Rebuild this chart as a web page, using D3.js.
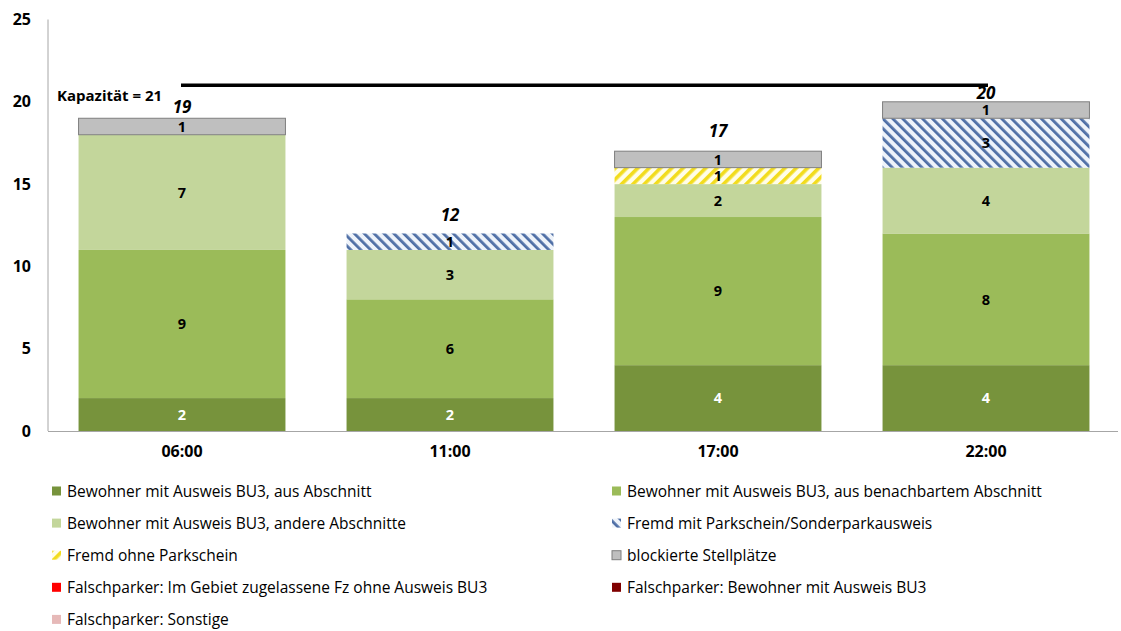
<!DOCTYPE html>
<html><head><meta charset="utf-8">
<script src="https://cdn.jsdelivr.net/npm/d3@7"></script>
<style>
html,body{margin:0;padding:0;background:#fff;}
svg{display:block;font-family:"Open Sans",sans-serif;}
</style></head>
<body><svg id="c" width="1121" height="631"></svg>
<script>
// ---- data ----
const categories = ["06:00","11:00","17:00","22:00"];
const seriesNames = [
  "Bewohner mit Ausweis BU3, aus Abschnitt",
  "Bewohner mit Ausweis BU3, aus benachbartem Abschnitt",
  "Bewohner mit Ausweis BU3, andere Abschnitte",
  "Fremd mit Parkschein/Sonderparkausweis",
  "Fremd ohne Parkschein",
  "blockierte Stellplätze",
  "Falschparker: Im Gebiet zugelassene Fz ohne Ausweis BU3",
  "Falschparker: Bewohner mit Ausweis BU3",
  "Falschparker: Sonstige"
];
const ausAbschnitt     = [2,2,4,4];
const benachbart       = [9,6,9,8];
const andere           = [7,3,2,4];
const fremdMitSchein   = [0,1,0,3];
const fremdOhneSchein  = [0,0,1,0];
const blockiert        = [1,0,1,1];
const falschZugelassen = [0,0,0,0];
const falschBewohner   = [0,0,0,0];
const falschSonstige   = [0,0,0,0];
const seriesValues = [ausAbschnitt,benachbart,andere,fremdMitSchein,fremdOhneSchein,blockiert,falschZugelassen,falschBewohner,falschSonstige];
const yTicks = [0,5,10,15,20,25];
const capacity = 21;
const capacityLabel = "Kapazität = 21";

// ---- styles ----
const fills = ["#77933C","#9BBB59","#C3D69B","url(#hatchBlue)","url(#hatchYellow)","#BFBFBF","#FF0000","#7F0000","#E6B9B8"];
const labelColors = ["#fff","#000","#000","#000","#000","#000","#000","#000","#000"];
const totalDy = [-5.5,-12,-14.5,-3]; // layout offsets of the total labels (px)

const svg = d3.select("#c");
const defs = svg.append("defs");
const pb = defs.append("pattern").attr("id","hatchBlue").attr("patternUnits","userSpaceOnUse")
  .attr("width",7).attr("height",7).attr("patternTransform","rotate(-45)");
pb.append("rect").attr("width",7).attr("height",7).attr("fill","#EEF3FA");
pb.append("rect").attr("width",2.8).attr("height",7).attr("fill","#4F6FA6");
const py = defs.append("pattern").attr("id","hatchYellow").attr("patternUnits","userSpaceOnUse")
  .attr("width",8).attr("height",8).attr("patternTransform","rotate(45)");
py.append("rect").attr("width",8).attr("height",8).attr("fill","#FFFDE8");
py.append("rect").attr("width",3.6).attr("height",8).attr("fill","#F2DC1E");

const x = d3.scaleBand().domain(categories).range([48,1120]).paddingInner(0.228).paddingOuter(0.114);
const y = d3.scaleLinear().domain([0,25]).range([431,19.5]);

// stack
const rows = categories.map((c,i)=>{const o={cat:c}; seriesNames.forEach((s,j)=>o[s]=seriesValues[j][i]); return o;});
const stacked = d3.stack().keys(seriesNames)(rows);

const g = svg.append("g");
stacked.forEach((layer,j)=>{
  layer.forEach((d,i)=>{
    const v = d[1]-d[0];
    if(v<=0) return;
    g.append("rect").attr("x",x(categories[i])).attr("width",x.bandwidth())
      .attr("y",y(d[1])).attr("height",y(d[0])-y(d[1]))
      .attr("fill",fills[j])
      .attr("stroke", j===5 ? "#7F7F7F" : "none").attr("stroke-width",1);
  });
});
// segment labels
stacked.forEach((layer,j)=>{
  layer.forEach((d,i)=>{
    const v = d[1]-d[0];
    if(v<=0) return;
    g.append("text").attr("x",x(categories[i])+x.bandwidth()/2).attr("y",y((d[0]+d[1])/2))
      .attr("dy","0.36em").attr("text-anchor","middle")
      .attr("font-size",14.5).attr("font-weight","bold").attr("fill",labelColors[j]).text(v);
  });
});
// totals
categories.forEach((c,i)=>{
  const tot = d3.sum(seriesValues,s=>s[i]);
  g.append("text").attr("x",x(c)+x.bandwidth()/2).attr("y",y(tot)+totalDy[i])
    .attr("text-anchor","middle").attr("font-size",17).attr("font-weight","bold").attr("font-style","italic")
    .text(tot);
});

// axes
svg.append("line").attr("x1",48).attr("x2",48).attr("y1",y(25)).attr("y2",y(0)).attr("stroke","#A6A6A6");
svg.append("line").attr("x1",48).attr("x2",1118).attr("y1",y(0)+0.5).attr("y2",y(0)+0.5).attr("stroke","#A6A6A6");
const ya = svg.append("g").attr("transform","translate(31,0)")
  .call(d3.axisLeft(y).tickValues(yTicks).tickSize(0).tickPadding(0));
ya.select(".domain").remove();
ya.selectAll("text").attr("font-size",16).attr("font-weight","bold").attr("font-family","Open Sans").attr("fill","#000");
const xa = svg.append("g").attr("transform",`translate(0,${y(0)})`)
  .call(d3.axisBottom(x).tickSize(0).tickPadding(15));
xa.select(".domain").remove();
xa.selectAll("text").attr("font-size",16).attr("font-weight","bold").attr("font-family","Open Sans").attr("fill","#000");

// capacity line
svg.append("line").attr("x1",x(categories[0])+x.bandwidth()/2-1).attr("x2",x(categories[3])+x.bandwidth()/2+2)
  .attr("y1",y(capacity)).attr("y2",y(capacity)).attr("stroke","#000").attr("stroke-width",3.5);
svg.append("text").attr("x",57).attr("y",y(capacity)+16).attr("font-size",15).attr("font-weight","bold").text(capacityLabel);

// legend
const lg = svg.append("g");
seriesNames.forEach((s,j)=>{
  const col = j%2, row = Math.floor(j/2);
  const lx = col===0 ? 52 : 612;
  const ly = 491.5 + row*32.1;
  lg.append("rect").attr("x",lx).attr("y",ly-5).attr("width",9).attr("height",9)
    .attr("fill",fills[j]).attr("stroke", j===5 ? "#7F7F7F":"none");
  lg.append("text").attr("x",lx+15).attr("y",ly).attr("dy","0.35em").attr("font-size",15.5).attr("fill","#000").text(s);
});
</script></body></html>
